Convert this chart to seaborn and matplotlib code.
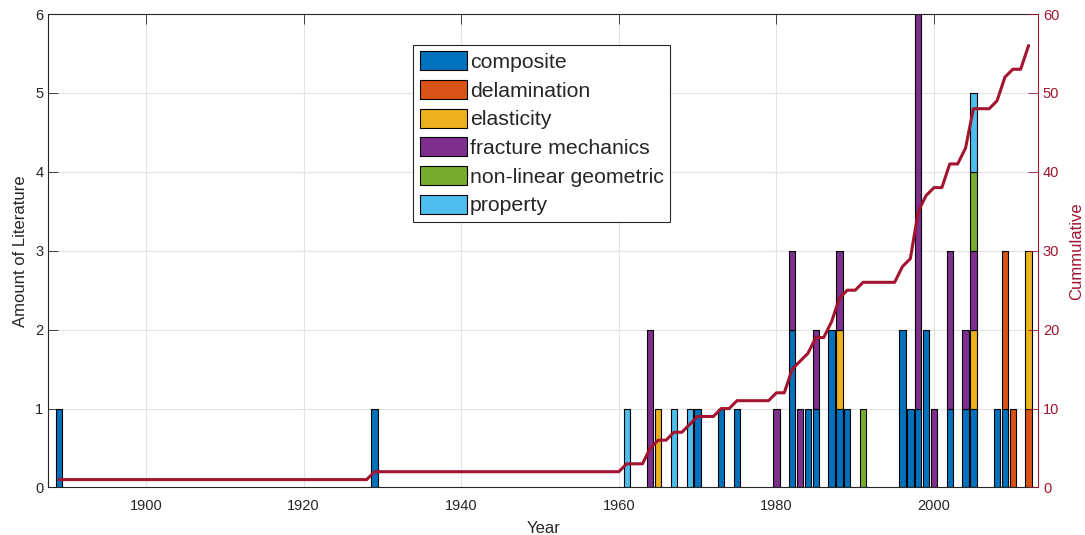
import numpy as np
import pandas as pd
import matplotlib
matplotlib.use('Agg')
import matplotlib.pyplot as plt
import seaborn as sns
from matplotlib.patches import Patch

# ---- data ----
years = [1889, 1929, 1961, 1964, 1965, 1967, 1969, 1970, 1973, 1975, 1980, 1982,
         1983, 1984, 1985, 1987, 1988, 1989, 1991, 1996, 1997, 1998, 1999, 2000,
         2002, 2004, 2005, 2008, 2009, 2010, 2012]
composite =    [1, 1, 0, 0, 0, 0, 0, 1, 1, 1, 0, 2, 0, 1, 1, 2, 1, 1, 0, 2, 1, 1, 2, 0, 1, 1, 1, 1, 1, 0, 0]
delamination = [0, 0, 0, 0, 0, 0, 0, 0, 0, 0, 0, 0, 0, 0, 0, 0, 0, 0, 0, 0, 0, 0, 0, 0, 0, 0, 0, 0, 2, 1, 1]
elasticity =   [0, 0, 0, 0, 1, 0, 0, 0, 0, 0, 0, 0, 0, 0, 0, 0, 1, 0, 0, 0, 0, 0, 0, 0, 0, 0, 1, 0, 0, 0, 2]
fracture =     [0, 0, 0, 2, 0, 0, 0, 0, 0, 0, 1, 1, 1, 0, 1, 0, 1, 0, 0, 0, 0, 5, 0, 1, 2, 1, 1, 0, 0, 0, 0]
nonlinear =    [0, 0, 0, 0, 0, 0, 0, 0, 0, 0, 0, 0, 0, 0, 0, 0, 0, 0, 1, 0, 0, 0, 0, 0, 0, 0, 1, 0, 0, 0, 0]
prop =         [0, 0, 1, 0, 0, 1, 1, 0, 0, 0, 0, 0, 0, 0, 0, 0, 0, 0, 0, 0, 0, 0, 0, 0, 0, 0, 1, 0, 0, 0, 0]
topics = ['composite', 'delamination', 'elasticity', 'fracture mechanics',
          'non-linear geometric', 'property']
colors = ['#0072BD', '#D95319', '#EDB120', '#7E2F8E', '#77AC30', '#4DBEEE']
line_color = '#A2142F'
axis_color = '#262626'

df = pd.DataFrame({'year': years, 'composite': composite, 'delamination': delamination,
                   'elasticity': elasticity, 'fracture mechanics': fracture,
                   'non-linear geometric': nonlinear, 'property': prop})

sns.set_theme(style='white')
plt.rcParams['font.family'] = ['Liberation Sans', 'DejaVu Sans']

fig = plt.figure(figsize=(10.85, 5.35), dpi=100)
ax = fig.add_axes([0.0445, 0.0888, 0.9122, 0.885])

bottom = np.zeros(len(df))
for t, c in zip(topics, colors):
    vals = df[t].values.astype(float)
    m = vals > 0
    ax.bar(df['year'].values[m], vals[m], bottom=bottom[m], width=0.8, color=c,
           edgecolor='black', linewidth=0.8, zorder=2)
    bottom += vals

ax.set_xlim(1887.6, 2013.2)
ax.set_ylim(0, 6)
ax.set_xticks([1900, 1920, 1940, 1960, 1980, 2000])
ax.set_yticks(range(0, 7))
ax.grid(True, color='#E3E3E3', linewidth=0.8, zorder=0)
ax.set_axisbelow(True)
ax.tick_params(axis='both', direction='in', length=7, width=0.6, colors=axis_color,
               labelsize=10.5, top=True, labeltop=False, right=False)
ax.tick_params(axis='x', pad=8)
for s in ['left', 'bottom', 'top']:
    ax.spines[s].set_color(axis_color)
    ax.spines[s].set_linewidth(0.8)
ax.spines['right'].set_visible(False)
ax.set_xlabel('Year', fontsize=12, color=axis_color, labelpad=6)
ax.set_ylabel('Amount of Literature', fontsize=12, color=axis_color, labelpad=5)

# cumulative
all_years = np.arange(min(years), max(years) + 1)
total = df.set_index('year')[topics].sum(axis=1).reindex(all_years, fill_value=0)
cum = total.cumsum().values
ax2 = ax.twinx()
sns.lineplot(x=all_years, y=cum, ax=ax2, color=line_color, linewidth=2.2)
ax2.set_ylim(0, 60)
ax2.set_yticks(range(0, 61, 10))
ax2.tick_params(axis='y', direction='in', length=7, width=0.6, colors=line_color,
                labelsize=10.5, right=True, left=False)
ax2.spines['right'].set_color(line_color)
ax2.spines['right'].set_linewidth(0.8)
for s in ['left', 'bottom', 'top']:
    ax2.spines[s].set_visible(False)
ax2.set_ylabel('Cummulative', fontsize=12, color=line_color, labelpad=7)
ax2.set_xlim(1887.6, 2013.2)

handles = [Patch(facecolor=c, edgecolor='black', linewidth=0.8, label=t) for t, c in zip(topics, colors)]
leg = ax2.legend(handles=handles, loc='upper left', bbox_to_anchor=(0.369, 0.9345),
                 fontsize=15.3, frameon=True, fancybox=False, framealpha=1,
                 edgecolor=axis_color, handlelength=2.2, handleheight=1.0,
                 labelspacing=0.37, handletextpad=0.15, borderpad=0.3, borderaxespad=0)
leg.get_frame().set_linewidth(0.8)

fig.savefig('out.png', dpi=100)
